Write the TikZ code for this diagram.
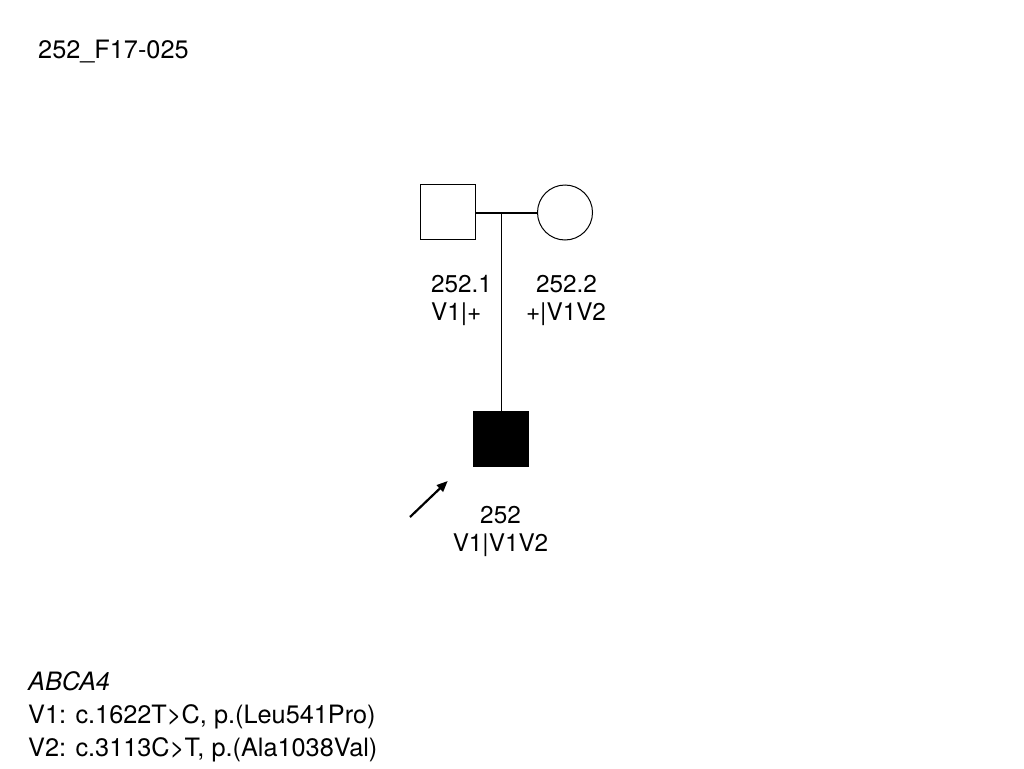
\documentclass[tikz,border=0pt]{standalone}
\usepackage{fontspec}
\setmainfont{TeX Gyre Heros}
\usetikzlibrary{arrows.meta}
\begin{document}
\begin{tikzpicture}[x=1pt,y=-1pt,
  person/.style={draw,line width=1pt,minimum size=55pt,inner sep=0pt},
  conn/.style={line width=1.2pt},
  lbl/.style={font=\fontsize{24.3}{28}\selectfont,inner sep=0pt},
  note/.style={font=\fontsize{25.3}{28}\selectfont,inner sep=0pt,anchor=base west}]
\useasboundingbox[fill=white] (0,0) rectangle (1024,768);
\node[note] (title) at (38,59) {252\_F17-025};
\node[person,rectangle] (father) at (447.5,211.5) {};
\node[person,circle] (mother) at (565,212.5) {};
\node[person,rectangle,fill=black] (child) at (501,439) {};
\coordinate (mid) at (501.5,213);
\draw[conn] (father.east |- mid) -- (mother.west |- mid);
\draw[conn] (mid) -- (child.north -| mid);
\node[lbl,anchor=base west] (f1) at (431,292) {252.1};
\node[lbl,anchor=base west] (f2) at (431,320) {V1|+};
\node[lbl,anchor=base] (m1) at (566.5,292) {252.2};
\node[lbl,anchor=base] (m2) at (566,320) {+|V1V2};
\node[lbl,anchor=base] (c1) at (500.5,523) {252};
\node[lbl,anchor=base] (c2) at (500.5,551) {V1|V1V2};
\coordinate (atail) at (410,517);
\coordinate (atip) at (447.7,481);
\draw[line width=2.2pt,-{Triangle[length=11pt,width=9pt]}] (atail) -- (atip);
\node[note] (gene) at (28,690) {\itshape ABCA4};
\node[note] (v1) at (28,723.3) {V1: c.1622T>C, p.(Leu541Pro)};
\node[note] (v2) at (28,756.7) {V2: c.3113C>T, p.(Ala1038Val)};
\end{tikzpicture}
\end{document}
